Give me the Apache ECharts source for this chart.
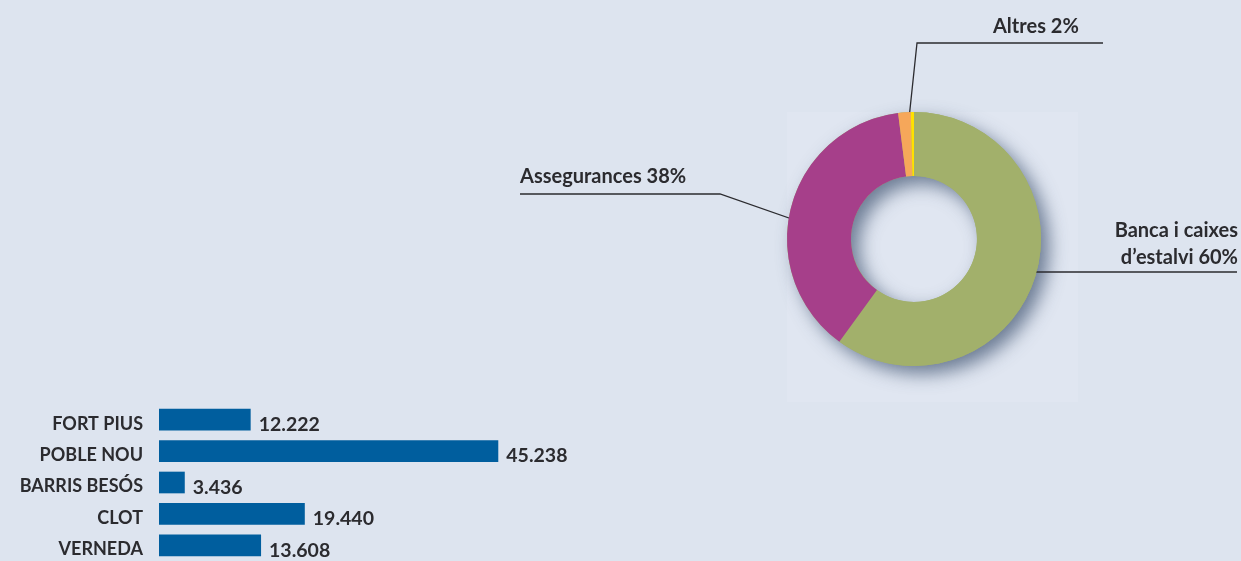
<!DOCTYPE html>
<html>
<head>
<meta charset="utf-8">
<script src="https://cdn.jsdelivr.net/npm/echarts@6/dist/echarts.min.js"></script>
<style>
html,body{margin:0;padding:0;background:#dde4ef;}
#chart{width:1241px;height:561px;}
</style>
</head>
<body>
<div id="chart"></div>
<script>
// ---- Data ----
const pieNames = ["Banca i caixes d\u2019estalvi", "Assegurances", "Altres", "Altres (2)"];
const pieLabels = ["Banca i caixes\nd\u2019estalvi 60%", "Assegurances 38%", "Altres 2%", ""];
const pieValues = [60, 38, 1.6, 0.4];
const pieColors = ["#a2b06b", "#a63f8a", "#f6a75a", "#ffe100"];

const barCategories = ["FORT PIUS", "POBLE NOU", "BARRIS BES\u00d3S", "CLOT", "VERNEDA"];
const barValues = [12222, 45238, 3436, 19440, 13608];

// ---- Helpers ----
function fmtThousands(v) {
  return String(v).replace(/\B(?=(\d{3})+(?!\d))/g, ".");
}

const FONT = "Lato";
const TEXT = "#2b2b2f";

// label layout (positions of annotation text and leader lines)
const labelCfg = {
  0: {x: 1238, y: 244, align: "right", pts: [[1016, 255], [1035, 272], [1237, 272]]},
  1: {x: 520, y: 177, align: "left", pts: [[829, 232], [720, 194], [520, 194]]},
  2: {x: 993, y: 27, align: "left", pts: [[908, 128], [917, 43], [1103, 43]]}
};

const chart = echarts.init(document.getElementById("chart"), null, {renderer: "canvas"});

const option = {
  backgroundColor: "#dde4ef",
  animation: false,
  graphic: [{
    type: "rect", z: -10,
    shape: {x: 787, y: 112, width: 291, height: 290},
    style: {fill: "#e0e6f1"}
  }],
  grid: {left: 159, top: 404, width: 375, height: 160, containLabel: false},
  xAxis: {
    type: "value", min: 0, max: 50000, show: false
  },
  yAxis: {
    type: "category", data: barCategories, inverse: true,
    axisLine: {show: false}, axisTick: {show: false},
    axisLabel: {
      margin: 16, color: TEXT, fontFamily: FONT, fontWeight: "bold", fontSize: 18,
      verticalAlign: "top", lineHeight: 8
    }
  },
  series: [
    {
      type: "pie", z: 1, silent: true,
      center: [914, 239], radius: [63, 127],
      startAngle: 90, clockwise: true,
      label: {show: false}, labelLine: {show: false},
      itemStyle: {
        color: "#a2b06b",
        shadowColor: "rgba(60,80,110,0.7)", shadowBlur: 18,
        shadowOffsetX: 8, shadowOffsetY: 8
      },
      data: [{value: 1, name: "shadow"}]
    },
    {
      type: "pie", z: 2,
      center: [914, 239], radius: [63, 127],
      startAngle: 90, clockwise: true,
      avoidLabelOverlap: false,
      data: pieNames.map((n, i) => ({
        name: n, value: pieValues[i],
        itemStyle: {color: pieColors[i], borderWidth: 0},
        label: {show: pieLabels[i] !== ""},
        labelLine: {show: pieLabels[i] !== ""}
      })),
      label: {
        position: "outside",
        color: TEXT, fontFamily: FONT, fontWeight: "bold", fontSize: 20, lineHeight: 27,
        formatter: p => pieLabels[p.dataIndex]
      },
      labelLine: {lineStyle: {color: "#2b2b2f", width: 1.3}},
      labelLayout: function (params) {
        const c = labelCfg[params.dataIndex];
        if (!c) return {};
        return {
          x: c.x, y: c.y, align: c.align, verticalAlign: "middle",
          labelLinePoints: c.pts
        };
      }
    },
    {
      type: "bar", data: barValues,
      barCategoryGap: "31%",
      itemStyle: {color: "#005e9e"},
      label: {
        show: true, position: "right", distance: 8, offset: [0, 5],
        color: TEXT, fontFamily: FONT, fontWeight: "bold", fontSize: 19.5,
        formatter: p => fmtThousands(p.value)
      }
    }
  ]
};
chart.setOption(option);
</script>
</body>
</html>
